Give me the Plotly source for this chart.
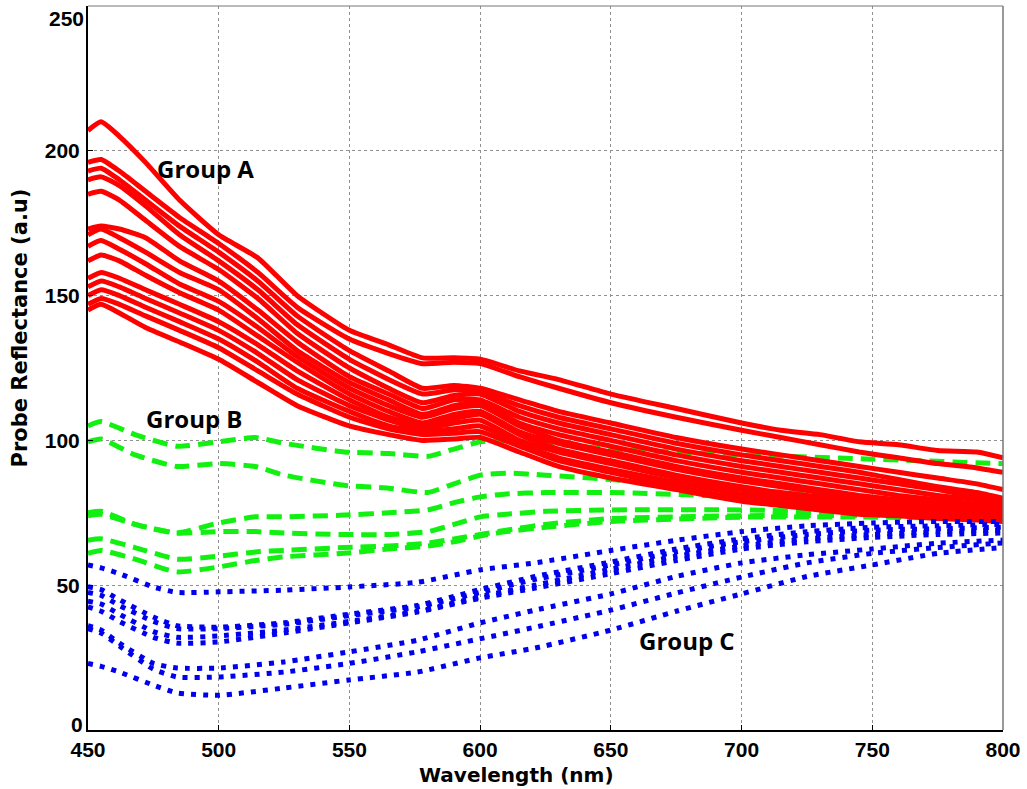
import plotly.graph_objects as go

# ---------------- data ----------------
wl_red = [450, 455, 462, 472, 485, 500, 515, 530, 550, 565, 578, 590, 600, 615, 630,
          650, 675, 700, 715, 730, 745, 760, 775, 790, 800]
group_a = [
    [207, 210, 205, 196, 183, 171, 163, 150, 138, 133, 128.5, 128.5, 128, 124, 121, 116, 111, 106, 103.5, 102, 99.5, 98.5, 96.5, 96, 94],
    [196, 197, 193, 186, 177, 168, 158, 146, 135, 130, 126.5, 127, 126.5, 122, 118, 113, 108, 103.5, 101, 98.5, 96, 94, 92, 90.5, 89],
    [193, 194, 190, 183, 174, 165, 155, 143, 131, 124, 118, 119, 118, 114, 110, 106, 101, 97, 95, 93, 91, 89, 87, 85, 83],
    [190, 191, 188, 181, 171, 162, 152, 140, 128, 121, 116, 117.5, 117, 112, 108, 104, 99, 95, 93, 91, 89, 86.5, 84, 82, 80],
    [185, 186, 183, 176, 167, 159, 149, 137, 125, 118, 113, 115.5, 116, 110, 106, 102, 97, 93, 91, 89, 87, 85, 83, 80.5, 79],
    [173, 174, 173, 170, 162, 155, 145, 134, 122, 116, 111, 114, 114, 108, 104, 100, 95, 91, 89, 87, 85, 83, 81, 79.5, 78],
    [171, 173, 170, 165, 158, 152, 142, 131, 120, 114, 109, 112, 113, 106, 102, 98, 93, 89, 87, 85, 83, 81, 79.5, 78, 77],
    [167, 169, 166, 161, 154, 148, 139, 129, 118, 112, 108, 111, 112, 105, 100, 96, 91, 87, 85, 83, 81, 79.5, 78, 77, 76],
    [162, 164, 162, 157, 151, 145, 136, 127, 116, 110, 106, 109, 110, 103, 99, 95, 90, 86, 84, 82, 80, 78.5, 77, 76, 75.5],
    [156, 158, 156, 152, 147, 141, 133, 124, 114, 108, 105, 107.5, 109, 102, 97, 93, 88, 84, 82, 80.5, 79, 77.5, 76.5, 75.5, 75],
    [153, 155, 153, 149, 144, 138, 130, 121, 112, 107, 104, 106, 107, 100, 96, 92, 87, 83, 81, 79.5, 78, 76.5, 75.5, 74.5, 74],
    [150, 152, 150, 146, 141, 135, 127, 118, 110, 105, 103, 104, 105, 99, 94, 90, 85.5, 81.5, 80, 78.5, 77, 75.5, 74.5, 74, 73.5],
    [147, 149, 147, 143, 138, 132, 124, 116, 108, 104, 102, 102.5, 103, 98, 93, 89, 84, 80, 78.5, 77, 76, 75, 74, 73.5, 73],
    [145, 147, 144, 139, 134, 128, 120, 112, 105, 102, 100, 100.5, 101, 96, 91, 87, 83, 79, 77.5, 76, 74.5, 74, 73, 72.5, 72],
]

wl_green = [450, 455, 468, 484, 500, 514, 525, 548, 565, 580, 590, 600, 610, 625, 650, 700, 750, 800]
group_b = [
    [105, 106.5, 102, 98, 99.5, 101, 99, 96, 95.5, 94.5, 97, 99.5, 100, 99, 97, 95, 93.5, 92],
    [99.5, 100.5, 95, 91, 92, 91, 88, 84.5, 83.5, 82, 85, 88, 88.7, 88, 86.5, 83, 80, 77],
    [75, 75.5, 71, 68, 71.5, 73.6, 73.6, 74.2, 75, 76, 78.5, 80.5, 81.5, 82, 82, 80.5, 78, 75.5],
    [74, 74.5, 71, 68, 68.5, 68.5, 68, 67.5, 67.5, 68.5, 71, 73.6, 74.5, 75.5, 76, 76, 75, 74],
    [65.5, 66, 63, 59, 60, 61.5, 62, 63, 63.5, 64.5, 66, 67.5, 69, 71, 73, 74, 74, 73.5],
    [61, 62, 59, 54.6, 56.3, 58.5, 59.8, 61, 62.5, 63.5, 65, 67, 68.5, 70, 72, 73.5, 73.5, 73],
]

wl_blue = [450, 455, 462, 475, 484, 500, 525, 550, 576, 600, 621, 650, 675, 700, 725, 750, 775, 800]
group_c = [
    [57, 56, 54, 49.4, 47.5, 47.7, 48.3, 49.4, 51, 55.3, 57.7, 62, 65.5, 68.5, 70.5, 71.5, 72, 72],
    [49.5, 48.5, 45, 39, 36, 35.5, 37, 40, 43, 48.5, 53, 58, 62.5, 66, 68.5, 70, 70.5, 71],
    [47.5, 46.5, 43, 37.5, 35, 35, 36.5, 39.5, 42.5, 47.5, 52, 57, 61.5, 65, 67.5, 69, 69.5, 70],
    [44.5, 43.5, 40, 34, 32, 32.5, 34.5, 37.5, 41, 46, 50, 55.5, 60, 63.5, 66, 67.5, 68.5, 69],
    [42.5, 41, 37.5, 32, 30, 30.4, 33.5, 37, 40.7, 45.5, 49, 54, 58.5, 62.5, 65, 66.5, 67.5, 68],
    [36, 34.5, 30, 23, 21.4, 21.4, 23.5, 27, 31, 37, 41.4, 47, 53, 57.7, 60.5, 62.5, 64.5, 65.6],
    [35, 33.5, 29, 21, 18.3, 18.3, 20, 23, 27, 31.5, 35.5, 41.4, 47.3, 52.8, 57.7, 61, 63, 64.6],
    [23, 22, 20, 15.5, 12.8, 12, 14.5, 17.3, 20, 24.9, 28.3, 34.5, 41, 47, 53, 57, 61, 63],
]

x_ticks = [450, 500, 550, 600, 650, 700, 750, 800]
y_ticks = [0, 50, 100, 150, 200, 250]
group_labels = ["Group A", "Group B", "Group C"]
label_pos = [(495, 194), (490.5, 107.7), (679, 31)]

# ---------------- figure ----------------
fig = go.Figure()

for ys in group_b:
    fig.add_trace(go.Scatter(x=wl_green, y=ys, mode="lines",
                             line=dict(color="#11f011", width=5, dash="15px,8px", shape="spline", smoothing=0.5),
                             showlegend=False, hoverinfo="skip"))
for ys in group_a:
    fig.add_trace(go.Scatter(x=wl_red, y=ys, mode="lines",
                             line=dict(color="#ff0000", width=5, shape="spline", smoothing=0.5),
                             showlegend=False, hoverinfo="skip"))
for ys in group_c:
    fig.add_trace(go.Scatter(x=wl_blue, y=ys, mode="lines",
                             line=dict(color="#0000ee", width=5, dash="5px,7px", shape="spline", smoothing=0.5),
                             showlegend=False, hoverinfo="skip"))

tick_font = dict(family="Liberation Sans, Arial, sans-serif", size=21, color="black", weight="bold")
fig.update_xaxes(range=[450, 800], tickvals=x_ticks, ticktext=[str(v) for v in x_ticks],
                 showgrid=True, gridcolor="#909090", gridwidth=1, griddash="dot",
                 showline=True, linecolor="black", linewidth=2, mirror=False,
                 ticks="inside", ticklen=5, tickcolor="black",
                 tickfont=tick_font, zeroline=False, ticklabelstandoff=0)
fig.update_yaxes(range=[0, 250], tickvals=y_ticks, ticktext=[""] + [str(v) for v in y_ticks[1:-1]] + [""],
                 showgrid=True, gridcolor="#909090", gridwidth=1, griddash="dot",
                 showline=True, linecolor="black", linewidth=2, mirror=False,
                 ticks="inside", ticklen=5, tickcolor="black",
                 tickfont=tick_font, zeroline=False, ticklabelstandoff=2)

# end labels 0 and 250, nudged like the reference
fig.add_annotation(x=0, xref="paper", y=y_ticks[-1], yref="y", text=str(y_ticks[-1]),
                   showarrow=False, xanchor="right", yanchor="middle", xshift=-2, yshift=-12,
                   font=tick_font)
fig.add_annotation(x=0, xref="paper", y=y_ticks[0], yref="y", text=str(y_ticks[0]),
                   showarrow=False, xanchor="right", yanchor="middle", xshift=-3, yshift=6,
                   font=tick_font)

# top / right border
fig.add_shape(type="line", xref="paper", yref="paper", x0=0, x1=1, y0=1, y1=1,
              line=dict(color="#777777", width=1))
fig.add_shape(type="line", xref="paper", yref="paper", x0=1, x1=1, y0=0, y1=1,
              line=dict(color="#777777", width=1.5))

fig.add_annotation(x=0.468, xref="paper", y=-0.062, yref="paper", text="Wavelength (nm)",
                   showarrow=False, xanchor="center", yanchor="middle",
                   font=dict(family="DejaVu Sans, sans-serif", size=20, color="black", weight="bold"))
fig.add_annotation(x=-0.074, xref="paper", y=0.555, yref="paper", text="Probe Reflectance (a.u)",
                   showarrow=False, xanchor="center", yanchor="middle", textangle=-90,
                   font=dict(family="DejaVu Sans, sans-serif", size=21, color="black", weight="bold"))

for txt, (gx, gy) in zip(group_labels, label_pos):
    fig.add_annotation(x=gx, y=gy, text=txt, showarrow=False, xanchor="center", yanchor="middle",
                       font=dict(family="Open Sans, sans-serif", size=24, color="black", weight="bold"))

fig.update_layout(width=1027, height=789, margin=dict(l=88, r=24, t=6, b=59),
                  paper_bgcolor="white", plot_bgcolor="white")

fig.write_html("out.html")
